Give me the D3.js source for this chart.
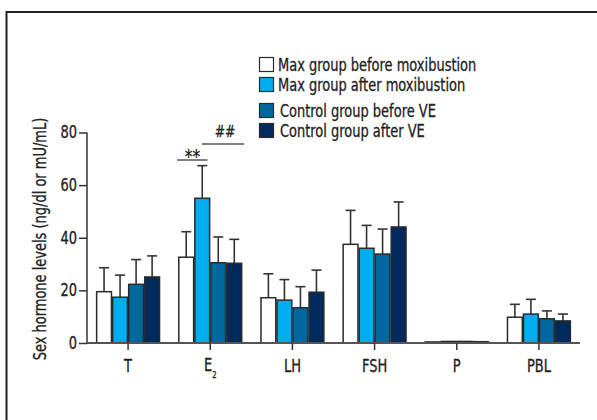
<!DOCTYPE html>
<html><head><meta charset="utf-8">
<script src="https://cdn.jsdelivr.net/npm/d3@7"></script>
<style>
body{margin:0;background:#fff;}
svg text{font-family:"DejaVu Sans Condensed","DejaVu Sans",sans-serif;fill:#222;stroke:#222;stroke-width:0.3px;}
</style></head>
<body><svg id="c" width="597" height="420"></svg>
<script>
const categories = ["T","E2","LH","FSH","P","PBL"];
const series = ["Max group before moxibustion","Max group after moxibustion","Control group before VE","Control group after VE"];
const colors = ["#ffffff","#00adee","#00689f","#002a5c"];
const means = [
  [19.5, 17.4, 22.3, 25.1],
  [32.6, 55.0, 30.5, 30.3],
  [17.2, 16.3, 13.4, 19.3],
  [37.5, 36.0, 33.8, 44.1],
  [0.4, 0.6, 0.6, 0.5],
  [9.8, 11.0, 9.2, 8.4]
];
const upper = [
  [28.6, 25.8, 31.7, 33.1],
  [42.3, 67.4, 40.3, 39.4],
  [26.3, 24.1, 21.4, 27.7],
  [50.4, 44.7, 43.3, 53.6],
  [0.4, 0.6, 0.6, 0.5],
  [14.7, 16.6, 12.2, 11.0]
];
const yTicks = [0,20,40,60,80];
const SX = 0.85; // condensed look

const svg = d3.select("#c");
function txt(x, y, s, size, anchor, rot) {
  return svg.append("text")
    .attr("transform", `translate(${x},${y})` + (rot ? ` rotate(${rot})` : "") + ` scale(${SX},1)`)
    .attr("text-anchor", anchor || "start").style("font-size", size + "px").text(s);
}
// frame
svg.append("path").attr("d","M6.5,420 V12 H597").attr("fill","none").attr("stroke","#222").attr("stroke-width",2);

const x = d3.scaleBand().domain(categories).range([87,580]).paddingInner(0.22).paddingOuter(0.11);
const xs = d3.scaleBand().domain(d3.range(series.length)).range([0,x.bandwidth()]);
const y = d3.scaleLinear().domain([0,80]).range([343,132.5]);

// bars
const g = svg.append("g");
categories.forEach((c,i)=>{
  means[i].forEach((v,j)=>{
    const bx = x(c)+xs(j), bw = xs.bandwidth();
    if (upper[i][j] > v) {
      const cx = bx + bw/2;
      g.append("line").attr("x1",cx).attr("x2",cx).attr("y1",y(v)).attr("y2",y(upper[i][j])).attr("stroke","#333").attr("stroke-width",1.6);
      g.append("line").attr("x1",cx-5).attr("x2",cx+5).attr("y1",y(upper[i][j])).attr("y2",y(upper[i][j])).attr("stroke","#333").attr("stroke-width",1.6);
    }
    g.append("rect").attr("x",bx+0.6).attr("width",bw-1.2).attr("y",y(v)).attr("height",y(0)-y(v))
      .attr("fill",colors[j]).attr("stroke","#2a2a2a").attr("stroke-width",1.5);
  });
});

// y axis
const ya = svg.append("g").attr("transform","translate(87,0)")
  .call(d3.axisLeft(y).tickValues(yTicks).tickSize(8).tickPadding(2));
ya.select(".domain").attr("stroke","#333").attr("stroke-width",1.5).attr("d","M0,"+y(80)+"V"+y(0));
ya.selectAll(".tick line").attr("stroke","#333").attr("stroke-width",1.5);
ya.selectAll(".tick text").style("font-size","17px").attr("fill","#222")
  .attr("x", -10/SX).attr("transform", `scale(${SX},1)`);

// x axis
const xa = svg.append("g").attr("transform","translate(0,343)")
  .call(d3.axisBottom(x).tickSize(7).tickFormat(""));
xa.select(".domain").attr("stroke","#555").attr("stroke-width",1.8).attr("d","M87,0H580");
xa.selectAll(".tick line").attr("stroke","#333").attr("stroke-width",1.5);
categories.forEach(c=>{
  const cx = x(c)+x.bandwidth()/2;
  if (c==="E2") {
    const t = txt(cx, 371, "", 17, "middle");
    t.append("tspan").text("E");
    t.append("tspan").text("2").attr("dy",7).style("font-size","9px");
  } else txt(cx, 372, c, 17, "middle");
});

// y label
txt(46, 239, "Sex hormone levels (ng/dl or mU/mL)", 17, "middle", -90);

// significance
svg.append("line").attr("x1",177).attr("x2",207.5).attr("y1",160).attr("y2",160).attr("stroke","#555").attr("stroke-width",1.5);
txt(192.5, 163, "**", 20, "middle");
svg.append("line").attr("x1",202).attr("x2",244).attr("y1",144).attr("y2",144).attr("stroke","#555").attr("stroke-width",1.5);
txt(225, 137, "##", 16, "middle");

// legend
const ly = [57,77,103,123];
const lx = [278,278,280,280];
series.forEach((s,j)=>{
  svg.append("rect").attr("x",259.5).attr("y",ly[j]+0.5).attr("width",14).attr("height",14)
    .attr("fill",colors[j]).attr("stroke","#2a2a2a").attr("stroke-width",1.2);
  txt(lx[j], ly[j]+13.5, s, 17);
});
</script></body></html>
